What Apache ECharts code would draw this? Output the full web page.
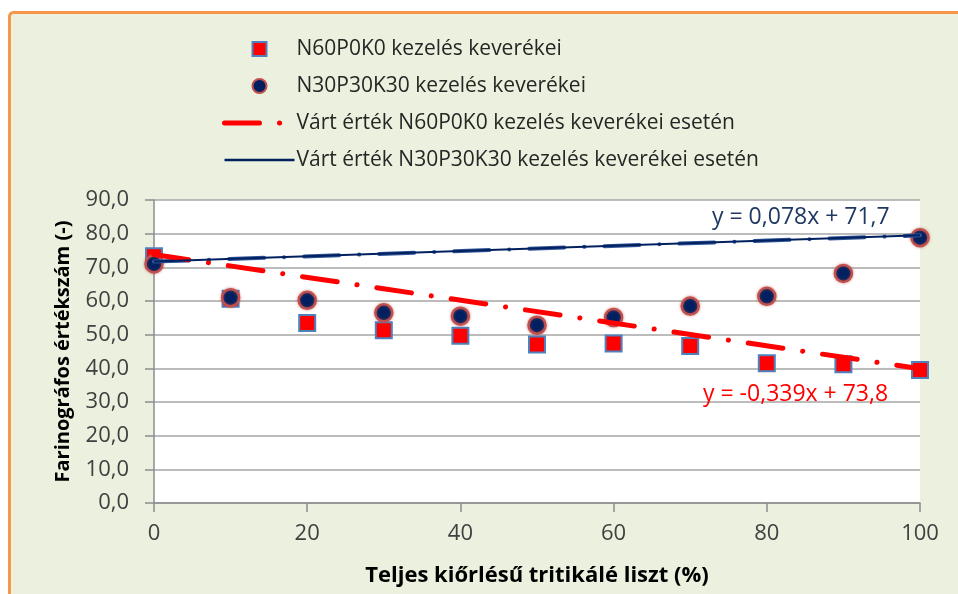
<!DOCTYPE html>
<html lang="hu">
<head>
    <meta charset="UTF-8">
    <title>Farinográfos értékszám</title>
    <script type="text/javascript" src="https://cdn.jsdelivr.net/npm/echarts@6/dist/echarts.min.js"></script>
    <style>
        html, body { margin: 0; padding: 0; background: #ffffff; }
        #charts { width: 958px; height: 594px; }
    </style>
</head>
<body>
<div id="charts"></div>
<script>
    // adatok
    var xValues = [0, 10, 20, 30, 40, 50, 60, 70, 80, 90, 100]
    var n60Values = [73.3, 60.7, 53.5, 51.3, 49.7, 47.1, 47.4, 46.6, 41.5, 41.2, 39.5]
    var n30Values = [71.0, 61.0, 60.2, 56.5, 55.5, 52.8, 55.1, 58.5, 61.4, 68.2, 78.8]
    // trendvonalak végpontjai (x=0 és x=100)
    var n60Trend = [73.8, 39.9]
    var n30Trend = [71.7, 79.5]
    var yTicks = [0, 10, 20, 30, 40, 50, 60, 70, 80, 90]

    var names = ['N60P0K0 kezelés keverékei', 'N30P30K30 kezelés keverékei',
        'Várt érték N60P0K0 kezelés keverékei esetén', 'Várt érték N30P30K30 kezelés keverékei esetén']

    function pairs(vals) {
        return xValues.map(function (x, i) { return [x, vals[i]] })
    }
    function trend(ends) {
        return [[xValues[0], ends[0]], [xValues[xValues.length - 1], ends[1]]]
    }

    var font = '"Open Sans", "Liberation Sans", sans-serif'
    var dashDot = [35, 20, 0.1, 20]
    var squareIcon = 'path://M0,0L10,0L10,10L0,10Z'

    var chart = echarts.init(document.getElementById("charts"), null, {renderer: 'canvas'})
    chart.setOption({
        backgroundColor: '#ffffff',
        animation: false,
        textStyle: {fontFamily: font},
        graphic: [
            {type: 'rect', z: -10, shape: {x: 9.5, y: 12.5, width: 1000, height: 700, r: 4},
                style: {fill: '#EBF1DE', stroke: '#F79646', lineWidth: 3}},
            {type: 'text', left: 712, top: 206, z: 20,
                style: {text: 'y = 0,078x + 71,7', fill: '#1F3864', font: '23px ' + font}},
            {type: 'text', left: 703, top: 383, z: 20,
                style: {text: 'y = -0,339x + 73,8', fill: '#FF0000', font: '23px ' + font}}
        ],
        grid: {left: 154, right: 38, top: 200, bottom: 91, show: true, backgroundColor: '#ffffff', borderWidth: 0},
        legend: {
            orient: 'vertical', left: 217, top: 33,
            itemWidth: 70, itemHeight: 14, itemGap: 15,
            textStyle: {fontSize: 21, color: '#262626', lineHeight: 22, fontFamily: font, padding: [0, 0, 0, -3]},
            data: [
                {name: names[0], icon: squareIcon},
                {name: names[1], icon: 'circle'},
                {name: names[2], itemStyle: {opacity: 0}, lineStyle: {width: 5, cap: 'round'}},
                {name: names[3], itemStyle: {opacity: 0}, lineStyle: {width: 2.5}}
            ]
        },
        xAxis: {
            type: 'value', min: 0, max: 100, interval: 20,
            name: 'Teljes kiőrlésű tritikálé liszt (%)', nameLocation: 'middle', nameGap: 62,
            nameTextStyle: {fontSize: 22, fontWeight: 'bold', color: '#000', fontFamily: font},
            axisLine: {lineStyle: {color: '#8c8c8c', width: 1.5}},
            axisTick: {show: true, length: 9, lineStyle: {color: '#8c8c8c', width: 1.5}},
            axisLabel: {fontSize: 22, color: '#404040', margin: 20, fontFamily: font},
            splitLine: {show: false}
        },
        yAxis: {
            type: 'value', min: yTicks[0], max: yTicks[yTicks.length - 1], interval: 10,
            name: 'Farinográfos értékszám (-)', nameLocation: 'middle', nameGap: 81,
            nameTextStyle: {fontSize: 20, fontWeight: 'bold', color: '#000', fontFamily: font},
            axisLine: {show: true, lineStyle: {color: '#8c8c8c', width: 1.5}},
            axisTick: {show: true, length: 9, lineStyle: {color: '#8c8c8c', width: 1.5}},
            axisLabel: {
                fontSize: 22, color: '#404040', margin: 25, fontFamily: font,
                formatter: function (v) { return v.toFixed(1).replace('.', ',') }
            },
            splitLine: {lineStyle: {color: '#a6a6a6', width: 1.5}}
        },
        series: [
            {
                name: names[0], type: 'scatter', symbol: 'rect', symbolSize: 16, z: 2,
                itemStyle: {color: '#FF0000', borderColor: '#4F81BD', borderWidth: 2, opacity: 1},
                data: pairs(n60Values)
            },
            {
                name: names[1], type: 'scatter', symbol: 'circle', symbolSize: 17, z: 3,
                itemStyle: {color: '#002060', borderColor: '#C0504D', borderWidth: 2.5, opacity: 1,
                    shadowBlur: 3, shadowColor: 'rgba(192,80,77,0.6)'},
                data: pairs(n30Values)
            },
            {
                name: names[2], type: 'line', symbol: 'none', z: 5,
                itemStyle: {color: '#FF0000'},
                lineStyle: {color: '#FF0000', width: 5, type: dashDot, cap: 'round'},
                data: trend(n60Trend)
            },
            {
                name: names[3], type: 'line', symbol: 'none', z: 5,
                itemStyle: {color: '#002060'},
                lineStyle: {color: '#002060', width: 2},
                data: trend(n30Trend)
            },
            {
                name: 'trend-n30', type: 'line', symbol: 'none', z: 4,
                lineStyle: {color: '#2F5597', width: 4, type: dashDot, cap: 'round'},
                data: trend(n30Trend)
            }
        ]
    })
</script>
</body>
</html>
